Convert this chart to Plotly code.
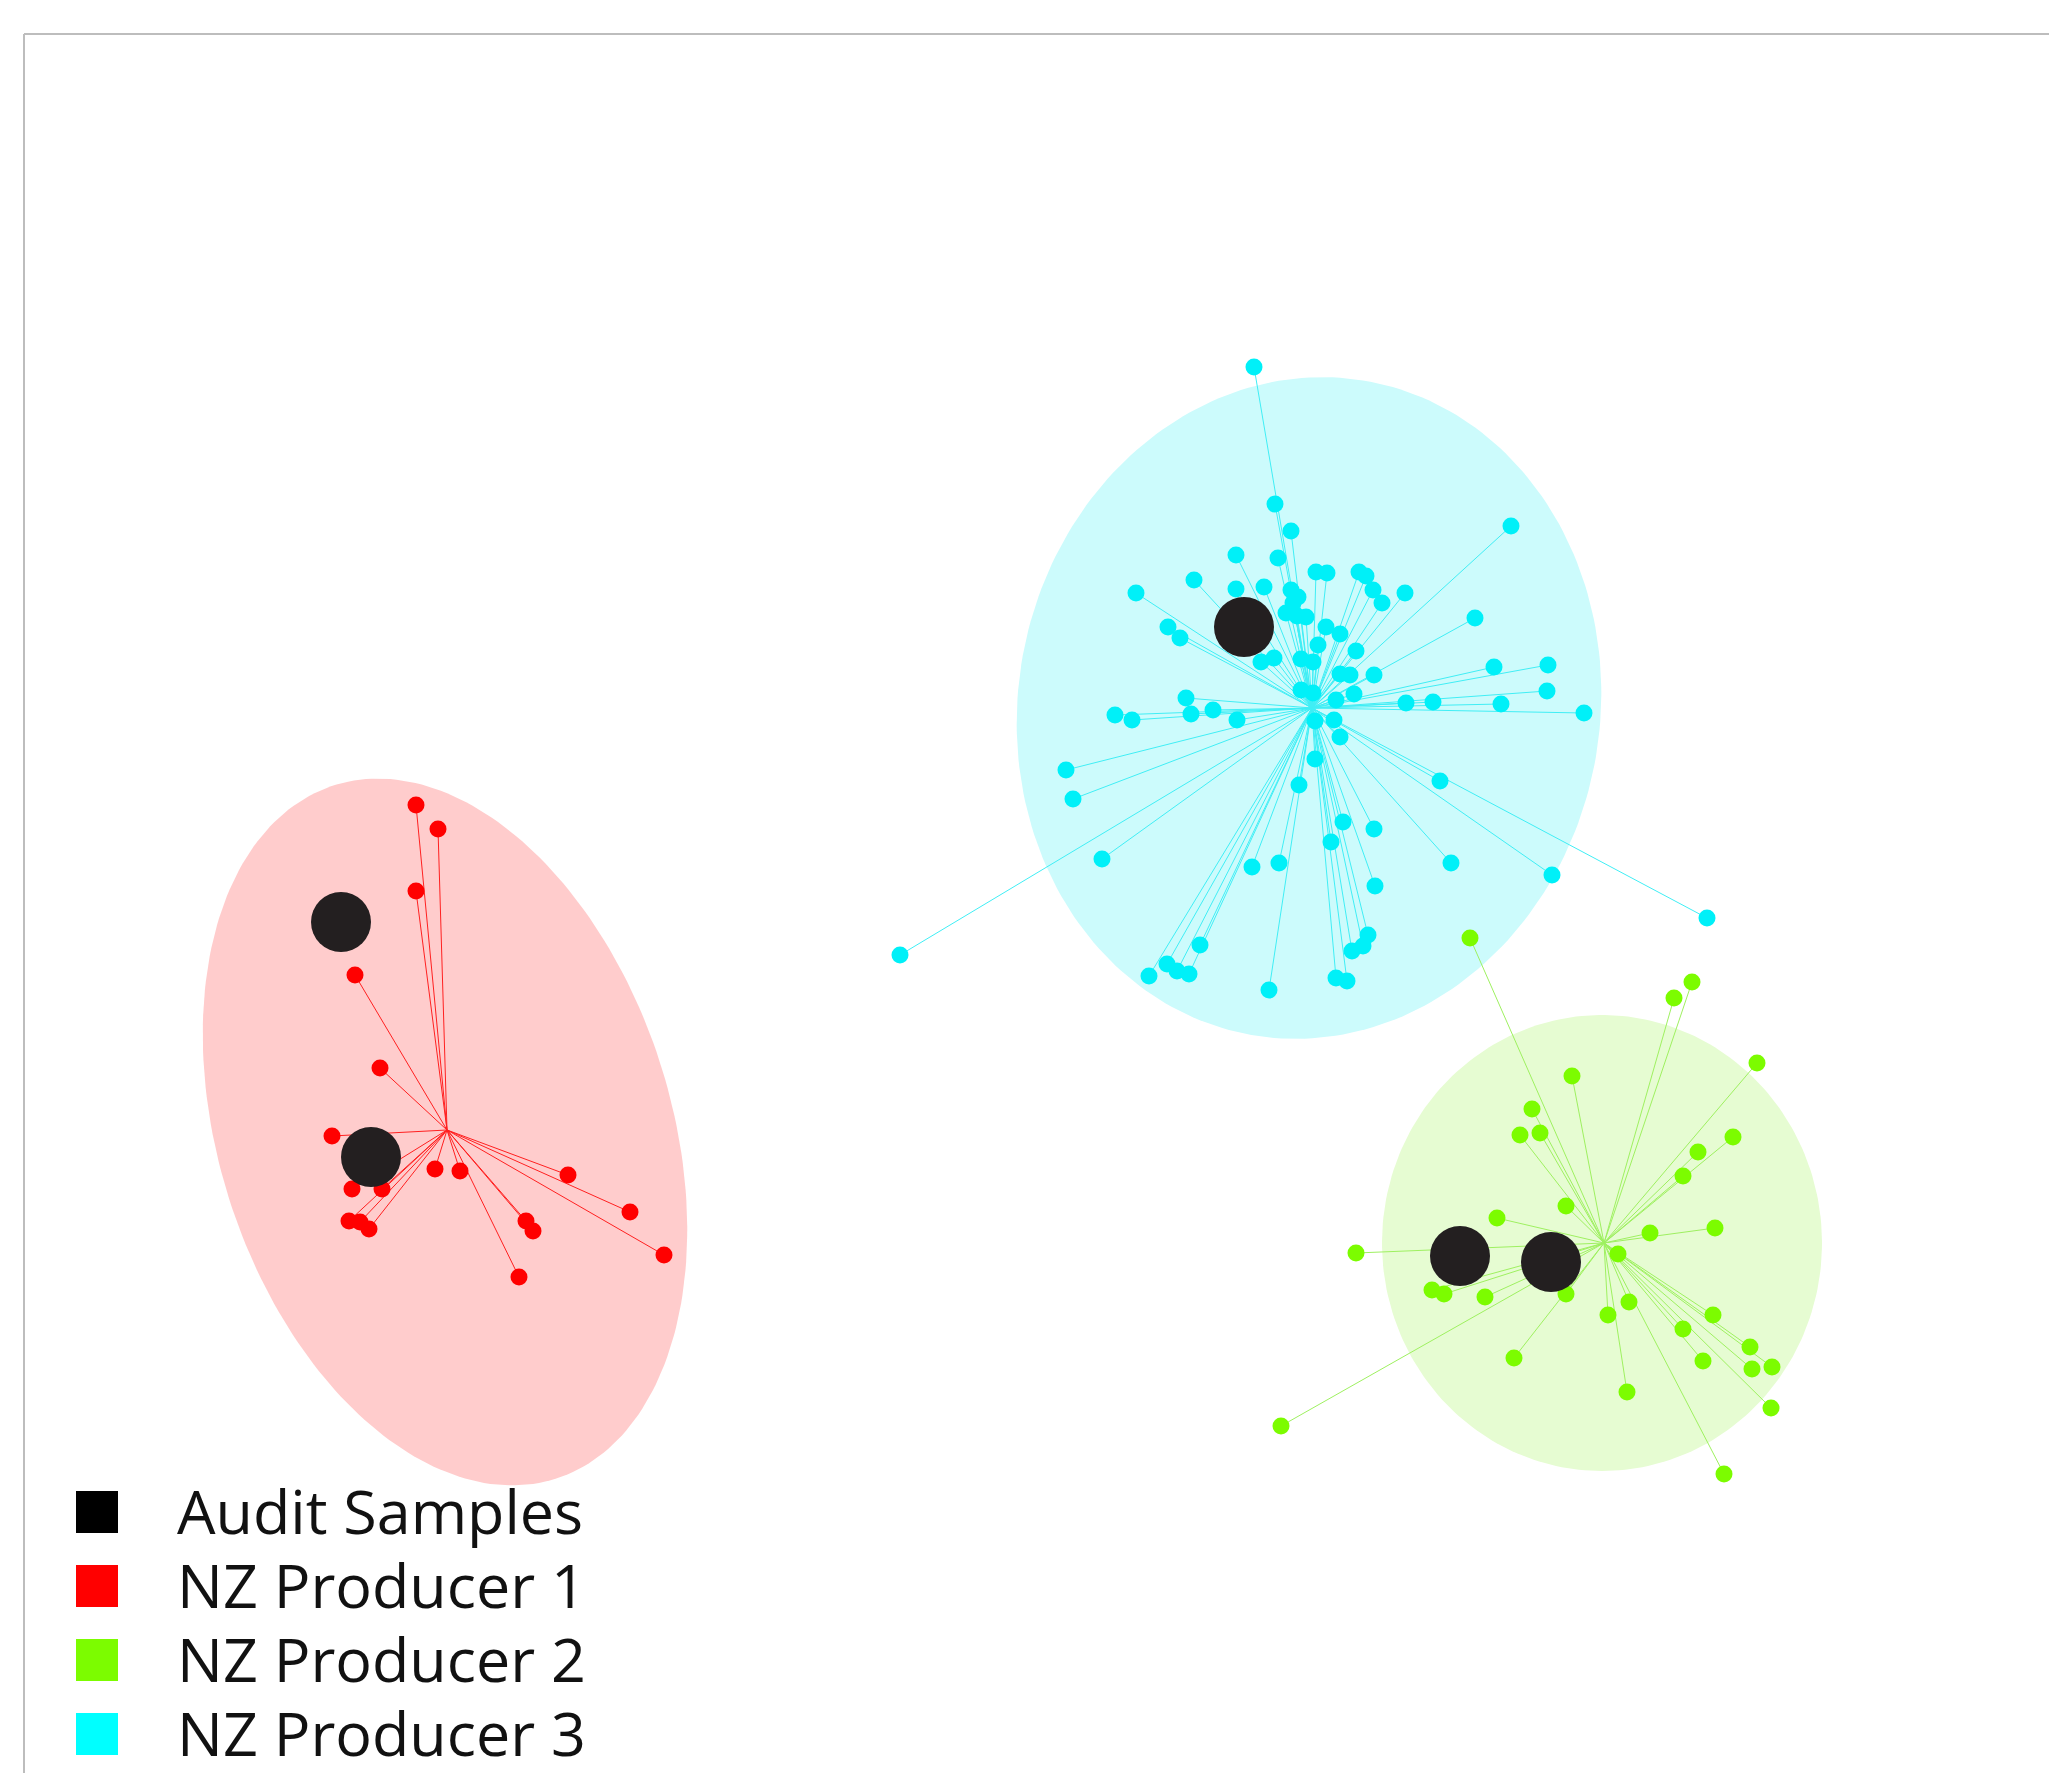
import numpy as np
import plotly.graph_objects as go

# ---------------- data (ordination scores) ----------------
GROUP_NAMES = ["NZ Producer 1", "NZ Producer 2", "NZ Producer 3"]
GROUP_COLORS = ["#FF0000", "#7CFC00", "#00F0F8"]
LINE_COLORS = ["#FF2020", "#9EF060", "#40EEF5"]
ELLIPSE_COLORS = ["#FFCCCC", "#E6FCD2", "#CCFBFC"]

P1_X = [416, 438, 416, 355, 380, 332, 435, 460, 568, 630, 664, 526, 533, 519,
        352, 382, 349, 360, 369]
P1_Y = [805, 829, 891, 975, 1068, 1136, 1169, 1171, 1175, 1212, 1255, 1221, 1231, 1277,
        1189, 1189, 1221, 1222, 1229]

P2_X = [1470, 1692, 1674, 1757, 1572, 1532, 1520, 1540, 1733, 1698, 1683, 1566, 1497,
        1650, 1715, 1356, 1618, 1432, 1444, 1485, 1566, 1629, 1608, 1713, 1683, 1750,
        1703, 1752, 1772, 1514, 1627, 1771, 1281, 1724]
P2_Y = [938, 982, 998, 1063, 1076, 1109, 1135, 1133, 1137, 1152, 1176, 1206, 1218,
        1233, 1228, 1253, 1254, 1290, 1294, 1297, 1294, 1302, 1315, 1315, 1329, 1347,
        1361, 1369, 1367, 1358, 1392, 1408, 1426, 1474]

P3_X = [1254, 1275, 1291, 1511, 1236, 1278, 1194, 1136,
        1316, 1327, 1359, 1366, 1373, 1382, 1405,
        1236, 1264, 1291, 1298, 1293, 1286, 1297, 1306,
        1475, 1168, 1180, 1326, 1340, 1318, 1356,
        1261, 1274, 1301, 1313, 1340, 1350, 1374,
        1494, 1548, 1547, 1501, 1406, 1433, 1584,
        1186, 1191, 1213, 1237, 1115, 1132,
        1301, 1313, 1336, 1354, 1315, 1334, 1340,
        1315, 1299, 1440, 1066, 1073, 1102,
        1343, 1374, 1331, 1252, 1279, 1451, 1552, 1375,
        1200, 1167, 1177, 1189, 1149, 1269,
        1368, 1363, 1352, 1336, 1347, 900, 1707]
P3_Y = [367, 504, 531, 526, 555, 558, 580, 593,
        572, 573, 572, 576, 590, 603, 593,
        589, 587, 590, 597, 603, 613, 616, 617,
        618, 627, 638, 627, 634, 645, 651,
        662, 658, 659, 662, 674, 675, 675,
        667, 665, 691, 704, 703, 702, 713,
        698, 714, 710, 720, 715, 720,
        690, 693, 700, 694, 721, 720, 737,
        759, 785, 781, 770, 799, 859,
        822, 829, 842, 867, 863, 863, 875, 886,
        945, 964, 971, 974, 976, 990,
        935, 946, 951, 978, 981, 955, 918]

CENTROID_X = [447, 1604, 1312]
CENTROID_Y = [1130, 1243, 708]

ELLIPSE_CX = [445, 1602, 1309]
ELLIPSE_CY = [1132, 1243, 708]
ELLIPSE_A = [364, 228, 332]
ELLIPSE_B = [226, 220, 291]
ELLIPSE_TILT_DEG = [17.8, 0.0, -10.0]

AUDIT_X = [341, 371, 1244, 1460, 1551]
AUDIT_Y = [922, 1157, 627, 1256, 1262]
AUDIT_COLOR = "#231F20"

LEGEND_LABELS = ["Audit Samples", "NZ Producer 1", "NZ Producer 2", "NZ Producer 3"]
LEGEND_COLORS = ["#000000", "#FF0000", "#7CFC00", "#00FFFF"]

W, H = 2057, 1773
PAGE_OFFSET = 8  # default body margin of the html page

groups_x = [P1_X, P2_X, P3_X]
groups_y = [P1_Y, P2_Y, P3_Y]

fig = go.Figure()

# confidence ellipses
t = np.linspace(0, 2 * np.pi, 240)
for i in range(3):
    phi = np.deg2rad(ELLIPSE_TILT_DEG[i])
    a, b = ELLIPSE_A[i], ELLIPSE_B[i]
    ex = ELLIPSE_CX[i] + a * np.cos(t) * np.sin(phi) + b * np.sin(t) * np.cos(phi)
    ey = ELLIPSE_CY[i] + a * np.cos(t) * np.cos(phi) - b * np.sin(t) * np.sin(phi)
    fig.add_trace(go.Scatter(x=ex, y=ey, mode="lines", fill="toself",
                             fillcolor=ELLIPSE_COLORS[i], line=dict(width=0),
                             hoverinfo="skip", showlegend=False))

# spider lines from centroid
for i in range(3):
    lx, ly = [], []
    for px, py in zip(groups_x[i], groups_y[i]):
        lx += [CENTROID_X[i], px, None]
        ly += [CENTROID_Y[i], py, None]
    fig.add_trace(go.Scatter(x=lx, y=ly, mode="lines",
                             line=dict(color=LINE_COLORS[i], width=1),
                             hoverinfo="skip", showlegend=False))

# group points
for i in range(3):
    fig.add_trace(go.Scatter(x=groups_x[i], y=groups_y[i], mode="markers",
                             name=GROUP_NAMES[i],
                             marker=dict(color=GROUP_COLORS[i], size=17, line=dict(width=0)),
                             showlegend=False))

# audit samples
fig.add_trace(go.Scatter(x=AUDIT_X, y=AUDIT_Y, mode="markers", name="Audit Samples",
                         marker=dict(color=AUDIT_COLOR, size=60, line=dict(width=0)),
                         showlegend=False))

# legend (drawn as a marker + text key)
leg_y = [1512 + 74 * k for k in range(len(LEGEND_LABELS))]
fig.add_trace(go.Scatter(x=[97] * len(LEGEND_LABELS), y=leg_y, mode="markers",
                         marker=dict(symbol="square", size=42, color=LEGEND_COLORS,
                                     line=dict(width=0)),
                         hoverinfo="skip", showlegend=False))
fig.add_trace(go.Scatter(x=[177] * len(LEGEND_LABELS), y=[v + 7 for v in leg_y], mode="text",
                         text=LEGEND_LABELS, textposition="middle right",
                         textfont=dict(family="Open Sans", size=61, color="#111111"),
                         hoverinfo="skip", showlegend=False))

# frame (top and left edges visible)
fig.add_shape(type="line", x0=24, x1=W + 50, y0=34, y1=34,
              line=dict(color="#BDBDBD", width=2), layer="below")
fig.add_shape(type="line", x0=24, x1=24, y0=34, y1=H + 50,
              line=dict(color="#BDBDBD", width=2), layer="below")

fig.update_layout(
    width=W, height=H,
    margin=dict(l=0, r=0, t=0, b=0),
    paper_bgcolor="white", plot_bgcolor="white",
    xaxis=dict(range=[PAGE_OFFSET, W + PAGE_OFFSET], visible=False, fixedrange=True),
    yaxis=dict(range=[H + PAGE_OFFSET, PAGE_OFFSET], visible=False, fixedrange=True),
    showlegend=False,
)

fig.write_html("out.html")
